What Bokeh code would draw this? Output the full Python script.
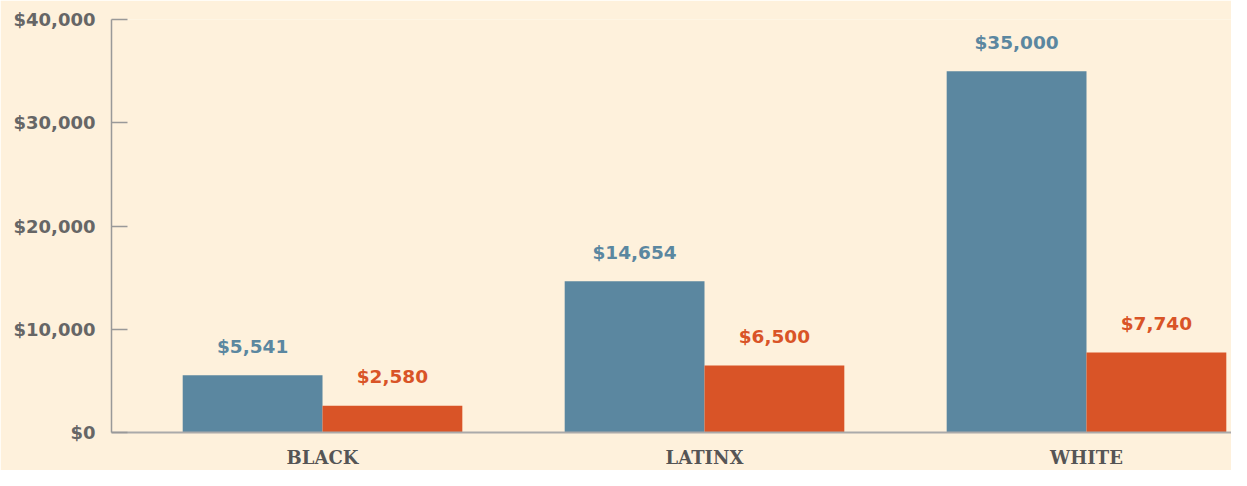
from bokeh.plotting import figure
from bokeh.models import ColumnDataSource, Range1d, FixedTicker, NumeralTickFormatter
from bokeh.transform import dodge
from bokeh.core.properties import value
from bokeh.embed import file_html
from bokeh.resources import INLINE

categories = ["BLACK", "LATINX", "WHITE"]
series_a = [5541, 14654, 35000]
series_b = [2580, 6500, 7740]
y_ticks = [0, 10000, 20000, 30000, 40000]

BG = "#fef1dc"
BLUE = "#5b87a0"
ORANGE = "#d95427"

xs = list(range(len(categories)))
src = ColumnDataSource(dict(
    x=xs,
    a=series_a,
    b=series_b,
    la=["${:,}".format(v) for v in series_a],
    lb=["${:,}".format(v) for v in series_b],
))

p = figure(width=1231, height=470, output_backend="svg", toolbar_location=None,
           x_range=Range1d(-0.5524, 2.3796), y_range=Range1d(0, 40000),
           min_border_left=111, min_border_right=0, min_border_top=19, min_border_bottom=0)
p.background_fill_color = BG
p.border_fill_color = BG
p.outline_line_color = None
p.xgrid.grid_line_color = None
p.ygrid.grid_line_color = None

w = 0.366
off = w / 2
p.vbar(x=dodge("x", -off), top="a", width=w, bottom=0, source=src, color=BLUE, line_color=None)
p.vbar(x=dodge("x", off), top="b", width=w, bottom=0, source=src, color=ORANGE, line_color=None)

p.text(x=dodge("x", -off), y="a", text="la", source=src, text_color=BLUE,
       text_font=value("DejaVu Sans"), text_font_style="bold", text_font_size="18.5px",
       text_align="center", text_baseline="middle", y_offset=-29)
p.text(x=dodge("x", off), y="b", text="lb", source=src, text_color=ORANGE,
       text_font=value("DejaVu Sans"), text_font_style="bold", text_font_size="18.5px",
       text_align="center", text_baseline="middle", y_offset=-29)

# y axis
ya = p.yaxis[0]
ya.ticker = FixedTicker(ticks=y_ticks)
ya.formatter = NumeralTickFormatter(format="$0,0")
ya.axis_line_color = "#999999"
ya.axis_line_width = 1.5
ya.major_tick_line_color = "#999999"
ya.major_tick_line_width = 1.5
ya.major_tick_in = 16
ya.major_tick_out = 0
ya.minor_tick_line_color = None
ya.major_label_text_font = "DejaVu Sans"
ya.major_label_text_font_style = "bold"
ya.major_label_text_font_size = "18px"
ya.major_label_text_color = "#666666"
ya.major_label_standoff = 16

# x axis
xa = p.xaxis[0]
xa.ticker = FixedTicker(ticks=xs)
xa.major_label_overrides = {i: c for i, c in enumerate(categories)}
xa.axis_line_color = "#aaaaaa"
xa.axis_line_width = 2
xa.major_tick_line_color = None
xa.minor_tick_line_color = None
xa.major_label_text_font = "DejaVu Serif"
xa.major_label_text_font_style = "bold"
xa.major_label_text_font_size = "18px"
xa.major_label_text_color = "#555555"
xa.major_label_standoff = 8

open("out.html", "w").write(file_html(p, INLINE))
